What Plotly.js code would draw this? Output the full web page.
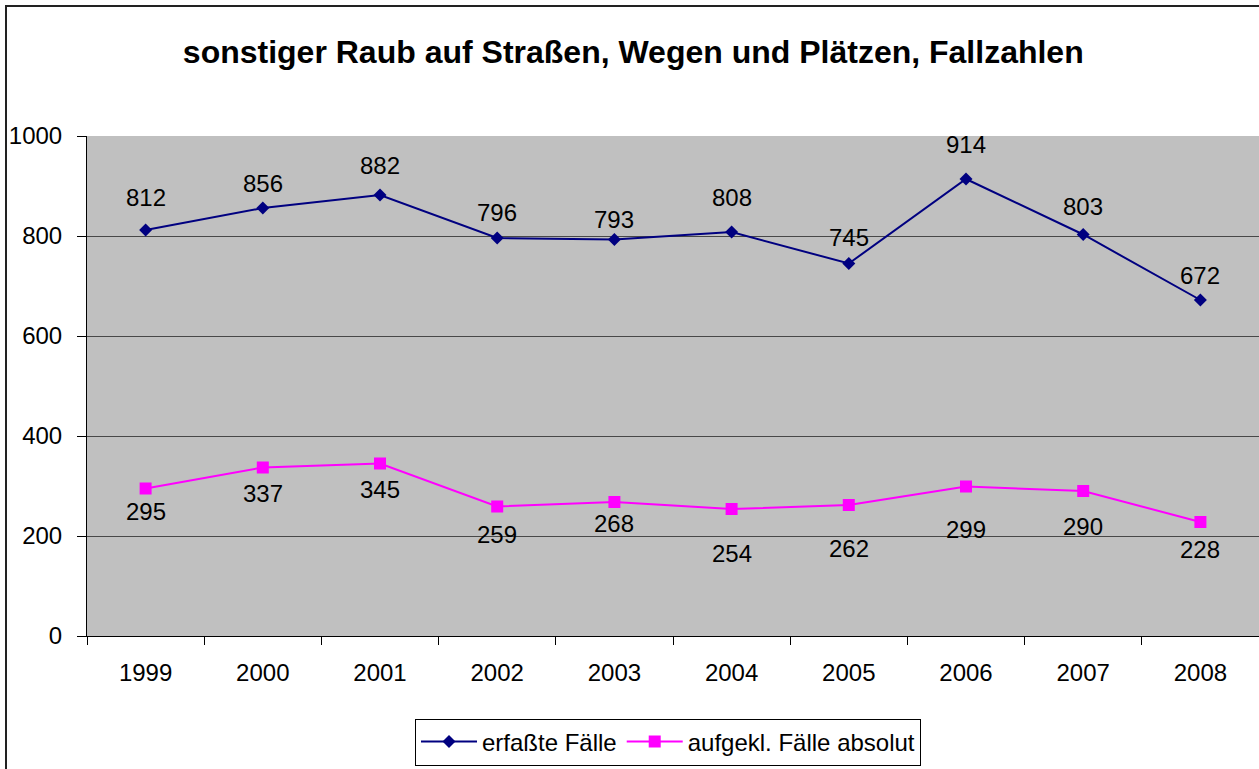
<!DOCTYPE html>
<html>
<head>
<meta charset="utf-8">
<script src="https://cdn.plot.ly/plotly-3.0.1.min.js"></script>
<style>
html,body{margin:0;padding:0;background:#fff;}
#chart{width:1259px;height:769px;}
</style>
</head>
<body>
<div id="chart"></div>
<script>
// ---- data ----
var years = ['1999','2000','2001','2002','2003','2004','2005','2006','2007','2008'];
var erfassteFaelle = [812, 856, 882, 796, 793, 808, 745, 914, 803, 672];
var aufgeklaerteFaelle = [295, 337, 345, 259, 268, 254, 262, 299, 290, 228];
var seriesNames = ['erfaßte Fälle', 'aufgekl. Fälle absolut'];
var yTicks = [0, 200, 400, 600, 800, 1000];
var chartTitle = 'sonstiger Raub auf Straßen, Wegen und Plätzen, Fallzahlen';

// ---- label placement (style only) ----
var topLabelShift = [33, 25, 30, 26, 20, 35, 26, 35, 28, 25];
var bottomLabelShift = [-23, -26, -26, -28, -21, -44, -43, -43, -35, -27];

var FONT = '"Liberation Sans", Arial, sans-serif';

var traces = [
  {
    x: years, y: erfassteFaelle, name: seriesNames[0],
    type: 'scatter', mode: 'lines+markers',
    line: {color: '#000080', width: 2},
    marker: {symbol: 'diamond', size: 10, color: '#000080'},
    cliponaxis: false
  },
  {
    x: years, y: aufgeklaerteFaelle, name: seriesNames[1],
    type: 'scatter', mode: 'lines+markers',
    line: {color: '#FF00FF', width: 2},
    marker: {symbol: 'square', size: 12, color: '#FF00FF'},
    cliponaxis: false
  }
];

// numeric-looking category names are read as indices by annotations,
// so position labels by category index
var annotations = [];
years.forEach(function (yr, i) {
  annotations.push({
    x: i, y: erfassteFaelle[i], xref: 'x', yref: 'y',
    text: String(erfassteFaelle[i]), showarrow: false,
    yshift: topLabelShift[i], font: {family: FONT, size: 24, color: '#000'}
  });
  annotations.push({
    x: i, y: aufgeklaerteFaelle[i], xref: 'x', yref: 'y',
    text: String(aufgeklaerteFaelle[i]), showarrow: false,
    yshift: bottomLabelShift[i], font: {family: FONT, size: 24, color: '#000'}
  });
});

var W = 1259, H = 769, ML = 87, MR = 0, MT = 136, MB = 133;
var pw = W - ML - MR, ph = H - MT - MB;
function px2x(px) { return (px - ML) / pw; }
function py2y(py) { return (H - MB - py) / ph; }

var shapes = [
  {type: 'line', xref: 'paper', yref: 'paper', x0: px2x(6), x1: px2x(6), y0: py2y(5), y1: py2y(800),
   line: {color: '#222', width: 2}},
  {type: 'line', xref: 'paper', yref: 'paper', x0: px2x(5), x1: px2x(1300), y0: py2y(6), y1: py2y(6),
   line: {color: '#222', width: 2}}
];

var layout = {
  width: W, height: H,
  margin: {l: ML, r: MR, t: MT, b: MB, pad: 0},
  paper_bgcolor: '#ffffff',
  plot_bgcolor: '#C0C0C0',
  font: {family: FONT, size: 24, color: '#000'},
  title: {
    text: '<b>' + chartTitle + '</b>',
    font: {family: FONT, size: 32, color: '#000'},
    x: 0.503, xref: 'container', xanchor: 'center',
    y: 1 - 52 / H, yref: 'container', yanchor: 'middle'
  },
  xaxis: {
    type: 'category',
    range: [-0.5, 9.5],
    showgrid: false, zeroline: false,
    showline: true, linecolor: '#000', linewidth: 1,
    ticks: 'outside', ticklen: 8, tickcolor: '#000', tickwidth: 1,
    tickson: 'boundaries',
    ticklabelstandoff: 15,
    tickfont: {family: FONT, size: 24, color: '#000'},
    fixedrange: true
  },
  yaxis: {
    range: [0, 1000],
    tickvals: yTicks, ticktext: yTicks.map(String),
    showgrid: true, gridcolor: '#484848', gridwidth: 1,
    zeroline: false,
    showline: true, linecolor: '#000', linewidth: 1,
    ticks: 'outside', ticklen: 9, tickcolor: '#000', tickwidth: 1,
    ticklabelstandoff: 10,
    tickfont: {family: FONT, size: 24, color: '#000'},
    fixedrange: true
  },
  showlegend: true,
  legend: {
    orientation: 'h',
    xref: 'container', yref: 'container',
    x: 668 / W, xanchor: 'center',
    y: (H - 742) / H, yanchor: 'middle',
    bgcolor: '#ffffff', bordercolor: '#000', borderwidth: 1,
    font: {family: FONT, size: 24, color: '#000'},
    itemwidth: 56,
    traceorder: 'normal'
  },
  annotations: annotations,
  shapes: shapes
};

Plotly.newPlot('chart', traces, layout, {displayModeBar: false, staticPlot: true});
</script>
</body>
</html>
